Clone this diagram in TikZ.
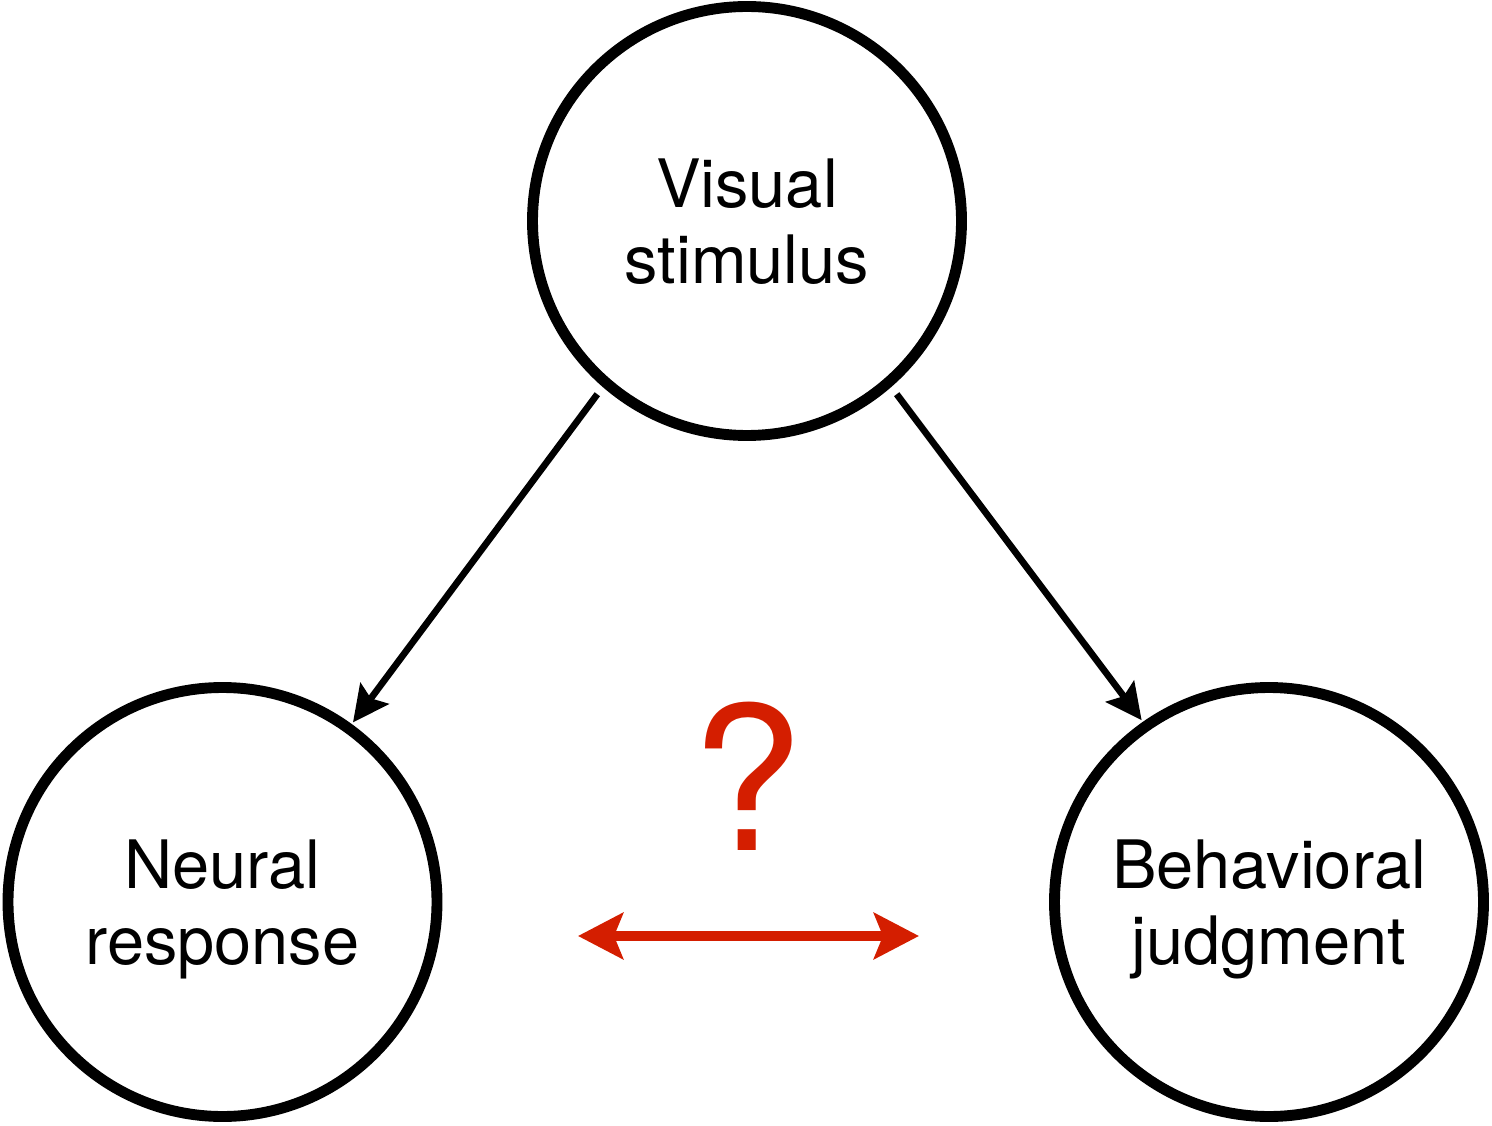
\documentclass[tikz,border=0pt]{standalone}
\usepackage{fontspec}
\setmainfont{TeX Gyre Heros}
\usepackage{xcolor}
\usetikzlibrary{arrows.meta,positioning}
\definecolor{askred}{RGB}{212,30,0}

\tikzset{
    stage/.style={circle, draw, line width=3.1pt, minimum size=4.29cm,
        inner sep=0pt, align=center, text depth=0pt,
        font=\fontsize{19pt}{21.6pt}\selectfont},
    link/.style={-{Stealth[length=3.6mm, width=3.5mm, inset=0.6mm]}, line width=1.9pt},
    relation/.style={{Stealth[length=4.5mm, width=4.6mm, inset=0.9mm]}-{Stealth[length=4.5mm, width=4.6mm, inset=0.9mm]},
        line width=2.8pt, askred}
}

\begin{document}
\begin{tikzpicture}
            \useasboundingbox (0,0) rectangle (14.92,11.25);

            % Three circles
            \node[stage] (vis) at (7.47,9.04) {Visual\\stimulus};
            \node[stage] (neu) at (2.225,2.23) {Neural\\response};
            \node[stage] (beh) at (12.69,2.23) {Behavioral\\judgment};

            % Arrows from the stimulus down to each circle
            \foreach \to/\from/\into in {neu/229/54, beh/311/125} {
                \draw[link, shorten <=0.9mm, shorten >=0.2mm] (vis.\from) -- (\to.\into);
            }

            % Open question between the two
            \node[askred, anchor=base, font=\fontsize{57pt}{60pt}\selectfont] (ask) at (7.47,2.75) {?};
            \coordinate (lend) at (5.78,1.89);
            \coordinate (rend) at (9.19,1.89);
            \draw[relation] (lend) -- (rend);
        \end{tikzpicture}
\end{document}
